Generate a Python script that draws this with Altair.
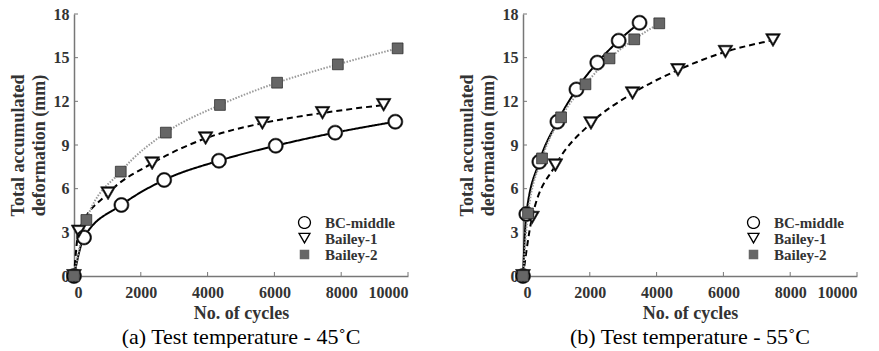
import altair as alt
import pandas as pd

# ---- data ----
series_names = ["BC-middle", "Bailey-1", "Bailey-2"]

# (a) 45 C
bc45_x = [0, 300, 1420, 2700, 4340, 6040, 7820, 9620]
bc45_y = [0, 2.65, 4.88, 6.6, 7.92, 8.95, 9.85, 10.6]
b1_45_x = [0, 140, 1020, 2340, 3940, 5640, 7440, 9270]
b1_45_y = [0, 3.05, 5.68, 7.74, 9.46, 10.5, 11.2, 11.75]
b2_45_x = [0, 370, 1400, 2750, 4370, 6080, 7900, 9690]
b2_45_y = [0, 3.85, 7.17, 9.85, 11.75, 13.28, 14.54, 15.64]

# (b) 55 C
bc55_x = [0, 100, 490, 1030, 1600, 2225, 2865, 3490]
bc55_y = [0, 4.26, 7.85, 10.6, 12.82, 14.66, 16.17, 17.4]
b1_55_x = [0, 270, 970, 2035, 3280, 4640, 6060, 7485]
b1_55_y = [0, 4.0, 7.6, 10.5, 12.55, 14.15, 15.4, 16.2]
b2_55_x = [0, 150, 570, 1140, 1870, 2590, 3330, 4080]
b2_55_y = [0, 4.3, 8.08, 10.9, 13.17, 14.95, 16.26, 17.36]

x_ticks = [0, 2000, 4000, 6000, 8000, 10000]
y_ticks = [0, 3, 6, 9, 12, 15, 18]

captions = ["(a) Test temperature - 45˚C", "(b) Test temperature - 55˚C"]

FONT = "Liberation Serif"
W, H = 334, 262
AXC = "#777777"
TXT = "#333333"

# solid shapes (white underlay) and outline shapes (rings) for the markers
TRI = "M-1,-0.87L1,-0.87L0,0.87Z"
SQ = "M-0.72,-0.72H0.72V0.72H-0.72Z"
SOLID = ["circle", TRI, SQ]
RING_C = "M1,0A1,1,0,1,1,-1,0A1,1,0,1,1,1,0ZM0.8,0A0.8,0.8,0,1,0,-0.8,0A0.8,0.8,0,1,0,0.8,0Z"
RING_T = "M-1,-0.87L1,-0.87L0,0.87ZM-0.654,-0.67L0,0.468L0.654,-0.67Z"
RINGS = [RING_C, RING_T, SQ]


def make_df(bx, by, b1x, b1y, b2x, b2y):
    rows = []
    for name, xs, ys in [(series_names[0], bx, by), (series_names[1], b1x, b1y), (series_names[2], b2x, b2y)]:
        for i, (a, b) in enumerate(zip(xs, ys)):
            rows.append({"series": name, "cycles": a, "def": b, "order": i})
    return pd.DataFrame(rows)


def panel(df, caption):
    xs = alt.Scale(domain=[0, 10000], nice=False)
    ys = alt.Scale(domain=[0, 18], nice=False)
    xaxis = alt.Axis(values=x_ticks, format="d", title="No. of cycles", ticks=False,
                     labelPadding=8, titlePadding=4)
    yaxis = alt.Axis(values=y_ticks, title=["Total accumulated", "deformation (mm)"], ticks=False,
                     labelPadding=5, titlePadding=5)

    leg = alt.Legend(title=None, orient="none", legendX=223, legendY=201,
                     labelFont=FONT, labelFontWeight="bold", labelFontSize=15, labelColor=TXT,
                     symbolSize=175, symbolStrokeWidth=0,
                     labelOffset=13, rowPadding=0, padding=0)

    lines = alt.Chart(df).mark_line(interpolate="monotone").encode(
        x=alt.X("cycles:Q", scale=xs, axis=xaxis),
        y=alt.Y("def:Q", scale=ys, axis=yaxis),
        detail="series:N",
        order="order:Q",
        stroke=alt.Stroke("series:N", scale=alt.Scale(domain=series_names, range=["black", "black", "#999999"]), legend=None),
        strokeDash=alt.StrokeDash("series:N", scale=alt.Scale(domain=series_names, range=[[1, 0], [6, 4], [1.5, 1.5]]), legend=None),
        strokeWidth=alt.StrokeWidth("series:N", scale=alt.Scale(domain=series_names, range=[2, 2, 1.5]), legend=None),
    )

    unders = []
    for name, shp in zip(series_names, SOLID):
        unders.append(
            alt.Chart(df).transform_filter(alt.datum.series == name).mark_point(
                filled=True, fill="white", opacity=1, size=225, strokeWidth=0, shape=shp
            ).encode(x=alt.X("cycles:Q", scale=xs), y=alt.Y("def:Q", scale=ys))
        )

    rings = alt.Chart(df).mark_point(filled=True, opacity=1, size=225, stroke="#222222", strokeWidth=0.7).encode(
        x=alt.X("cycles:Q", scale=xs),
        y=alt.Y("def:Q", scale=ys),
        shape=alt.Shape("series:N", scale=alt.Scale(domain=series_names, range=RINGS), legend=leg),
        fill=alt.Fill("series:N", scale=alt.Scale(domain=series_names, range=["black", "black", "#666666"]), legend=leg),
    )

    xt = alt.Chart(pd.DataFrame({"v": x_ticks})).mark_rule(color=AXC, strokeWidth=1).encode(
        x=alt.X("v:Q", scale=xs), y=alt.value(H), y2=alt.value(H - 4))
    yt = alt.Chart(pd.DataFrame({"v": y_ticks})).mark_rule(color=AXC, strokeWidth=1).encode(
        y=alt.Y("v:Q", scale=ys), x=alt.value(0), x2=alt.value(4))

    return alt.layer(lines, xt, yt, *unders, rings).properties(
        width=W, height=H,
        title=alt.TitleParams(caption, orient="bottom", font=FONT, fontSize=22, fontWeight="normal",
                              color="black", offset=5, anchor="middle"),
    ).resolve_scale(stroke="independent", strokeDash="independent", strokeWidth="independent")


p1 = panel(make_df(bc45_x, bc45_y, b1_45_x, b1_45_y, b2_45_x, b2_45_y), captions[0])
p2 = panel(make_df(bc55_x, bc55_y, b1_55_x, b1_55_y, b2_55_x, b2_55_y), captions[1])

chart = alt.hconcat(p1, p2, spacing=49).resolve_scale(
    shape="independent", fill="independent",
    stroke="independent", strokeDash="independent", strokeWidth="independent"
).resolve_legend(shape="independent", fill="independent").properties(
    padding={"left": 9, "top": 6, "right": 5, "bottom": 0},
    background="white",
).configure_view(stroke=None).configure_axis(
    grid=False, domainColor=AXC, domainWidth=1.5,
    labelFont=FONT, labelFontWeight="bold", labelFontSize=16, labelColor=TXT,
    titleFont=FONT, titleFontWeight="bold", titleFontSize=18, titleColor=TXT,
).configure_axisY(titleLineHeight=21)

chart.save("out.html", embed_options={"renderer": "svg", "actions": False})
